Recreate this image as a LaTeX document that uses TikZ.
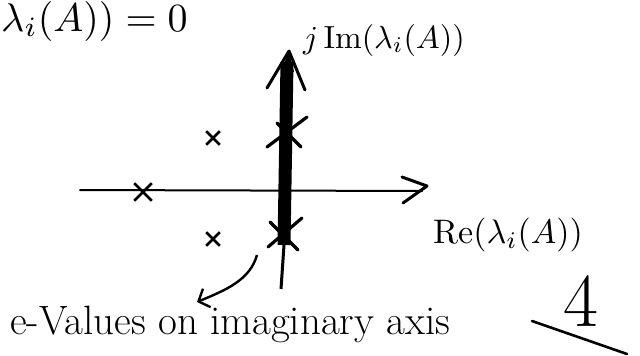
\documentclass[tikz,border=0pt]{standalone}
\usepackage{graphicx}
\usetikzlibrary{arrows.meta,shapes.misc}
\begin{document}
\begin{tikzpicture}[x=1pt,y=-1pt,
  axisline/.style={line width=2pt,line cap=round},
  thickaxis/.style={line width=13pt},
  barb/.style={line width=3pt,line cap=round,line join=round},
  smallx/.style={draw,cross out,line width=2.6pt,minimum size=11pt,inner sep=0pt},
  bigx/.style={line width=3.2pt,line cap=round},
  lbl/.style={inner sep=0pt},
  pointer/.style={line width=2.4pt,-{Straight Barb[length=9pt,width=20pt,line width=2.4pt]}}]
\useasboundingbox (0,0) rectangle (640,356);
% coordinates
\coordinate (hl) at (80,190);
\coordinate (hr) at (422,191);
\coordinate (htip) at (427,186);
\coordinate (vb) at (281,289);
\coordinate (vm) at (284,245);
\coordinate (vt) at (287,62);
\coordinate (vtip) at (289,51);
% horizontal axis
\draw[axisline] (hl) -- (hr);
\draw[barb] (402,177) -- (htip) -- (403,203);
% vertical axis
\draw[line width=3pt] (vb) -- (vm);
\draw[thickaxis] (vm) -- (vt);
\fill (vtip) -- (281,72) -- (294,72) -- cycle;
\draw[barb] (267,88) -- (vtip) -- (305,90);
% crosses
\node[smallx] (x1) at (213,138) {};
\node[smallx] (x2) at (213,239) {};
\node[smallx,minimum size=15pt] (x3) at (143,192) {};
\coordinate (x4) at (287,133);
\coordinate (x5) at (284,234);
\draw[bigx] ([shift={(-20,14)}]x4) -- ([shift={(20,-16)}]x4);
\draw[bigx] ([shift={(-10,-10)}]x4) -- ([shift={(14,14)}]x4);
\draw[bigx] ([shift={(-16,13)}]x5) -- ([shift={(18,-16)}]x5);
\draw[bigx] ([shift={(-14,-12)}]x5) -- ([shift={(14,16)}]x5);
% labels
\node[lbl,anchor=base west] (t1) at (1,31) {\scalebox{4}{$\lambda_i(A))=0$}};
\node[lbl,anchor=base west] (t2) at (303,48) {\scalebox{3.2}{$j\,\mathrm{Im}(\lambda_i(A))$}};
\node[lbl,anchor=base west] (t3) at (433,243) {\scalebox{3.4}{$\mathrm{Re}(\lambda_i(A))$}};
\node[lbl,anchor=base west,font=\fontsize{41}{48}\selectfont] (t4) at (10,334) {e-Values on imaginary axis};
\node[lbl,anchor=base,font=\fontsize{76}{80}\selectfont] (t5) at (581,326) {4};
\coordinate (u1) at (532,321);
\coordinate (u2) at (627,354);
\draw[line width=2.6pt,line cap=round] (u1) -- (u2);
% pointer
\coordinate (ps) at (257,255);
\coordinate (pe) at (197,302);
\draw[pointer] (ps) .. controls (250,280) and (226,290) .. (pe);
\end{tikzpicture}
\end{document}
